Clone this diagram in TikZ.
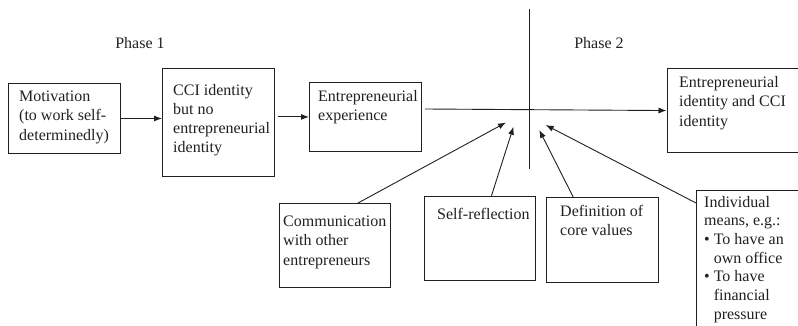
\documentclass[tikz,border=0pt]{standalone}
\usepackage{fontspec}
\setmainfont{Liberation Serif}
\usetikzlibrary{arrows.meta,calc}
\newcommand\fsz{\fontsize{16pt}{19.5pt}\selectfont}
\newcommand\fszb{\fontsize{16pt}{19pt}\selectfont}
\newcommand\fszc{\fontsize{16pt}{18.7pt}\selectfont}
\definecolor{ink}{HTML}{231F20}
\begin{document}
\begin{tikzpicture}[x=1pt,y=-1pt,
  box/.style={draw=ink, line width=1pt, anchor=north west, inner sep=0pt},
  txt/.style={anchor=north west, inner sep=0pt, align=left, text=ink, font=\fsz},
  lbl/.style={inner sep=0pt, text=ink, font=\fsz},
  conn/.style={draw=ink, line width=0.9pt},
  arr/.style={conn, -{Latex[length=8pt,width=6pt]}}
]
\useasboundingbox (0,0) rectangle (798,326);
\clip (0,0) rectangle (798,326);

% phase labels
\node[lbl] (ph1) at (140,43) {Phase 1};
\node[lbl] (ph2) at (599,43) {Phase 2};

% boxes
\node[box, minimum width=112pt, minimum height=70pt] (mot) at (8,83) {};
\node[box, minimum width=112pt, minimum height=107.5pt] (cci) at (162,68.3) {};
\node[box, minimum width=112pt, minimum height=69.5pt] (ee) at (309,81.7) {};
\node[box, minimum width=131pt, minimum height=83.5pt] (fin) at (666.5,68.3) {};
\node[box, minimum width=111pt, minimum height=84pt] (comm) at (279,203.3) {};
\node[box, minimum width=111pt, minimum height=84.3pt] (self) at (424,195.7) {};
\node[box, minimum width=111.7pt, minimum height=85pt] (def) at (546,197.3) {};
\node[box, minimum width=140pt, minimum height=160pt] (ind) at (696,190) {};

% texts
\node[txt] (mott) at (19,87.3) {\strut Motivation\\(to work self-\\determinedly)};
\node[txt, font=\fszb] (ccit) at (173,81.7) {\strut CCI identity\\but no\\entrepreneurial\\identity};
\node[txt] (eet) at (318,87.3) {\strut Entrepreneurial\\experience};
\node[txt] (fint) at (679,73.3) {\strut Entrepreneurial\\identity and CCI\\identity};
\node[txt] (commt) at (283,212.3) {\strut Communication\\with other\\entrepreneurs};
\node[txt] (selft) at (437,205.3) {\strut Self-reflection};
\node[txt] (deft) at (560,202.3) {\strut Definition of\\core values};
\node[txt, font=\fszc] (indt) at (704,193.9) {\strut Individual\\means, e.g.:\\•\ To have an\\\hphantom{•\ }own office\\•\ To have\\\hphantom{•\ }financial\\\hphantom{•\ }pressure};

% phase divider
\coordinate (vtop) at (529.3,9);
\coordinate (vbot) at (529.3,169);
\draw[conn] (vtop) -- (vbot);

% main flow
\draw[arr] (mot.east) -- (mot.east -| cci.west);
\draw[arr] ([xshift=3pt]cci.east |- ee.west) -- (ee.west);
\coordinate (hstart) at (424,109);
\draw[arr] (hstart -| ee.east) ++(3,0) -- (fin.west);

% influences
\coordinate (tcomm) at (506,122.5);
\coordinate (tself) at (513.5,126.7);
\coordinate (tdef) at (539.3,130);
\coordinate (tind) at (545.7,125);
\draw[arr] ([xshift=22.5pt]comm.north) -- (tcomm);
\draw[arr] ([xshift=11.5pt]self.north) -- (tself);
\draw[arr] ([xshift=-29pt]def.north) -- (tdef);
\draw[arr] ([yshift=-13pt]ind.north west) -- (tind);
\end{tikzpicture}
\end{document}
